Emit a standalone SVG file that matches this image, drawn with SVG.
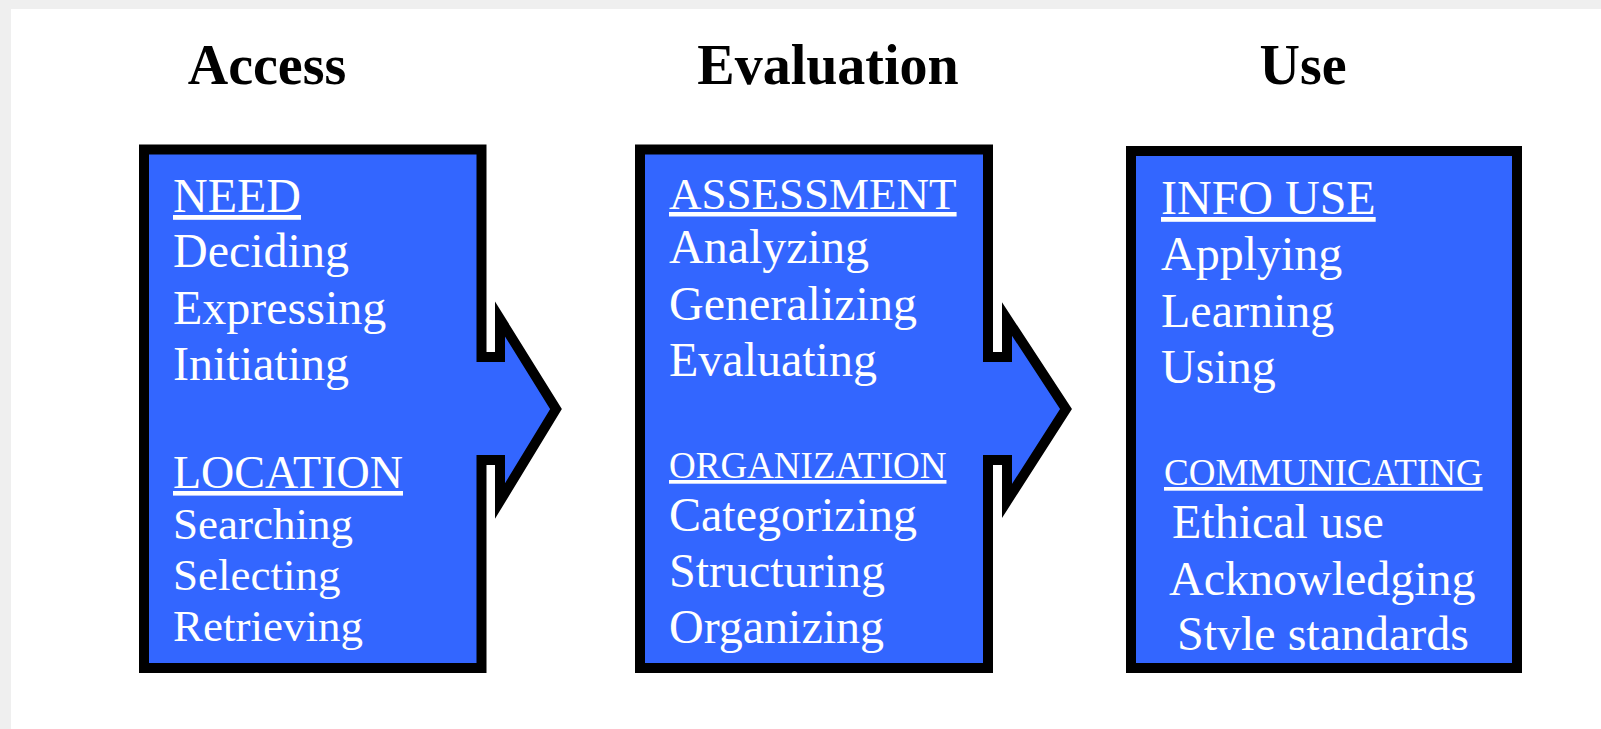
<svg xmlns="http://www.w3.org/2000/svg" width="1601" height="729" viewBox="0 0 1601 729">
<style>
.bg{fill:#ffffff}
.edge{fill:#efefef}
.box{fill:#3366ff;stroke:#000000;stroke-width:10;stroke-linejoin:miter;stroke-miterlimit:10}
.title{font-family:"Liberation Serif","Times New Roman",serif;font-weight:bold;font-size:56px;fill:#000000;text-anchor:middle}
.item{font-family:"Liberation Serif","Times New Roman",serif;font-size:48px;fill:#ffffff}
.head{text-decoration:underline}
.s45{font-size:45px}
.small{font-size:37px}
</style>
<rect class="bg" x="0" y="0" width="1601" height="729"/>
<rect class="edge" x="0" y="0" width="1601" height="9"/>
<rect class="edge" x="0" y="0" width="11" height="729"/>

<g id="title-access"><text class="title" x="267" y="84">Access</text></g>
<g id="title-evaluation"><text class="title" x="828" y="84">Evaluation</text></g>
<g id="title-use"><text class="title" x="1303" y="84">Use</text></g>

<g id="connectors"></g>

<g id="node-access">
<path class="box" d="M144,149.5 H481.5 V357 H500 V319 L556,409 L500,501 V460 H481.5 V668 H144 Z"/>
<text class="item head" x="173" y="212">NEED</text>
<text class="item" x="173" y="267">Deciding</text>
<text class="item" x="173" y="324">Expressing</text>
<text class="item" x="173" y="380">Initiating</text>
<text class="item head" x="173" y="488" style="font-size:46px">LOCATION</text>
<text class="item s45" x="173" y="539">Searching</text>
<text class="item s45" x="173" y="590">Selecting</text>
<text class="item s45" x="173" y="641">Retrieving</text>
</g>

<g id="node-evaluation">
<path class="box" d="M640,149.5 H988 V357 H1007 V319 L1066,409 L1007,501 V460 H988 V668 H640 Z"/>
<text class="item head" x="669" y="209" style="font-size:45px">ASSESSMENT</text>
<text class="item" x="669" y="263">Analyzing</text>
<text class="item" x="669" y="320">Generalizing</text>
<text class="item" x="669" y="376">Evaluating</text>
<text class="item head small" x="669" y="478">ORGANIZATION</text>
<text class="item" x="669" y="531">Categorizing</text>
<text class="item" x="669" y="587">Structuring</text>
<text class="item" x="669" y="643">Organizing</text>
</g>

<g id="node-use">
<rect class="box" x="1131" y="151" width="386" height="517"/>
<text class="item head" x="1161" y="214">INFO USE</text>
<text class="item" x="1161" y="270">Applying</text>
<text class="item" x="1161" y="327">Learning</text>
<text class="item" x="1161" y="383">Using</text>
<text class="item head small" x="1164" y="485">COMMUNICATING</text>
<text class="item" x="1172" y="538">Ethical use</text>
<text class="item" x="1169" y="595">Acknowledging</text>
<text class="item" x="1177" y="650">Stvle standards</text>
</g>
</svg>
